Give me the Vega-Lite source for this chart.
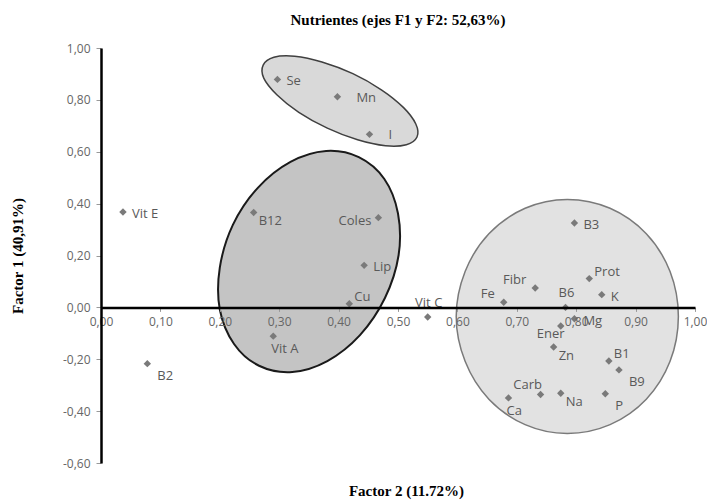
{
  "$schema": "https://vega.github.io/schema/vega-lite/v6.json",
  "width": 594,
  "height": 415,
  "autosize": {"type": "none"},
  "padding": {"left": 101, "top": 48, "right": 12, "bottom": 37},
  "background": "#ffffff",
  "config": {"view": {"stroke": null}},
  "title": {"text": "Nutrientes (ejes F1 y F2: 52,63%)", "font": "Liberation Serif", "fontSize": 15, "fontWeight": "bold", "color": "#000000", "anchor": "middle", "offset": 14},
  "datasets": {
    "pts": [
      {"n": "Vit E", "x": 0.037, "y": 0.368},
      {"n": "B2", "x": 0.078, "y": -0.217},
      {"n": "Se", "x": 0.297, "y": 0.879},
      {"n": "Mn", "x": 0.398, "y": 0.812},
      {"n": "I", "x": 0.452, "y": 0.667},
      {"n": "B12", "x": 0.257, "y": 0.366},
      {"n": "Coles", "x": 0.467, "y": 0.346},
      {"n": "Lip", "x": 0.443, "y": 0.162},
      {"n": "Cu", "x": 0.418, "y": 0.014},
      {"n": "Vit A", "x": 0.29, "y": -0.111},
      {"n": "Vit C", "x": 0.55, "y": -0.037},
      {"n": "B3", "x": 0.797, "y": 0.325},
      {"n": "Prot", "x": 0.822, "y": 0.111},
      {"n": "Fibr", "x": 0.731, "y": 0.075},
      {"n": "K", "x": 0.843, "y": 0.049},
      {"n": "Fe", "x": 0.678, "y": 0.02},
      {"n": "B6", "x": 0.782, "y": 0.0},
      {"n": "Mg", "x": 0.797, "y": -0.044},
      {"n": "Ener", "x": 0.774, "y": -0.072},
      {"n": "Zn", "x": 0.762, "y": -0.153},
      {"n": "B1", "x": 0.855, "y": -0.207},
      {"n": "B9", "x": 0.872, "y": -0.241},
      {"n": "Carb", "x": 0.74, "y": -0.336},
      {"n": "Ca", "x": 0.686, "y": -0.349},
      {"n": "Na", "x": 0.774, "y": -0.331},
      {"n": "P", "x": 0.849, "y": -0.333}
    ],
    "ell1": [
      {"i": 0, "x": 0.532, "y": 0.657},
      {"i": 1, "x": 0.514, "y": 0.627},
      {"i": 2, "x": 0.479, "y": 0.623},
      {"i": 3, "x": 0.432, "y": 0.646},
      {"i": 4, "x": 0.381, "y": 0.691},
      {"i": 5, "x": 0.333, "y": 0.752},
      {"i": 6, "x": 0.296, "y": 0.82},
      {"i": 7, "x": 0.274, "y": 0.884},
      {"i": 8, "x": 0.273, "y": 0.934},
      {"i": 9, "x": 0.291, "y": 0.964},
      {"i": 10, "x": 0.326, "y": 0.968},
      {"i": 11, "x": 0.372, "y": 0.946},
      {"i": 12, "x": 0.424, "y": 0.901},
      {"i": 13, "x": 0.472, "y": 0.839},
      {"i": 14, "x": 0.509, "y": 0.771},
      {"i": 15, "x": 0.53, "y": 0.707}
    ],
    "ell2": [
      {"i": 0, "x": 0.434, "y": 0.579},
      {"i": 1, "x": 0.477, "y": 0.495},
      {"i": 2, "x": 0.5, "y": 0.362},
      {"i": 3, "x": 0.501, "y": 0.201},
      {"i": 4, "x": 0.478, "y": 0.036},
      {"i": 5, "x": 0.436, "y": -0.107},
      {"i": 6, "x": 0.381, "y": -0.207},
      {"i": 7, "x": 0.322, "y": -0.249},
      {"i": 8, "x": 0.266, "y": -0.225},
      {"i": 9, "x": 0.224, "y": -0.141},
      {"i": 10, "x": 0.2, "y": -0.008},
      {"i": 11, "x": 0.2, "y": 0.153},
      {"i": 12, "x": 0.222, "y": 0.318},
      {"i": 13, "x": 0.264, "y": 0.461},
      {"i": 14, "x": 0.319, "y": 0.561},
      {"i": 15, "x": 0.379, "y": 0.603}
    ],
    "ell3": [
      {"i": 0, "x": 0.972, "y": -0.035},
      {"i": 1, "x": 0.958, "y": -0.208},
      {"i": 2, "x": 0.918, "y": -0.354},
      {"i": 3, "x": 0.857, "y": -0.452},
      {"i": 4, "x": 0.785, "y": -0.486},
      {"i": 5, "x": 0.714, "y": -0.452},
      {"i": 6, "x": 0.653, "y": -0.354},
      {"i": 7, "x": 0.613, "y": -0.208},
      {"i": 8, "x": 0.598, "y": -0.035},
      {"i": 9, "x": 0.613, "y": 0.138},
      {"i": 10, "x": 0.653, "y": 0.284},
      {"i": 11, "x": 0.714, "y": 0.382},
      {"i": 12, "x": 0.785, "y": 0.416},
      {"i": 13, "x": 0.857, "y": 0.382},
      {"i": 14, "x": 0.918, "y": 0.284},
      {"i": 15, "x": 0.958, "y": 0.138}
    ]
  },
  "encoding": {
    "x": {
      "field": "x", "type": "quantitative",
      "scale": {"domain": [0, 1], "nice": false, "zero": false},
      "axis": {
        "orient": "bottom", "offset": -155.6,
        "values": [0, 0.1, 0.2, 0.3, 0.4, 0.5, 0.6, 0.7, 0.8, 0.9, 1.0],
        "labelExpr": "replace(format(datum.value, '.2f'), '.', ',')",
        "grid": false, "domainColor": "#000000", "domainWidth": 2.5,
        "tickColor": "#999999", "tickSize": 4, "tickWidth": 1,
        "labelPadding": 5, "labelFont": "Open Sans", "labelFontSize": 12, "labelColor": "#666666",
        "labelFlush": false, "labelOverlap": false,
        "title": "Factor 2 (11.72%)", "titleFont": "Liberation Serif", "titleFontSize": 15, "titleFontWeight": "bold", "titleColor": "#000000",
        "titleX": 305, "titleY": 182.6, "titleBaseline": "middle", "titleAlign": "center",
        "zindex": 1
      }
    },
    "y": {
      "field": "y", "type": "quantitative",
      "scale": {"domain": [-0.6, 1.0], "nice": false, "zero": false},
      "axis": {
        "values": [-0.6, -0.4, -0.2, 0, 0.2, 0.4, 0.6, 0.8, 1.0],
        "labelExpr": "replace(replace(format(datum.value, '.2f'), '.', ','), '\u2212', '-')",
        "grid": false, "domainColor": "#000000", "domainWidth": 2.5,
        "tickColor": "#999999", "tickSize": 5, "tickWidth": 1,
        "labelPadding": 6, "labelFont": "Open Sans", "labelFontSize": 12, "labelColor": "#666666",
        "labelFlush": false, "labelOverlap": false,
        "title": "Factor 1 (40,91%)", "titleFont": "Liberation Serif", "titleFontSize": 15, "titleFontWeight": "bold", "titleColor": "#000000",
        "titleX": -84, "titleY": 207.5, "titleAngle": -90, "titleBaseline": "middle", "titleAlign": "center",
        "zindex": 1
      }
    }
  },
  "layer": [
    {"data": {"name": "ell1"}, "mark": {"type": "line", "interpolate": "cardinal-closed", "fill": "#d9d9d9", "stroke": "#404040", "strokeWidth": 1.5}, "encoding": {"order": {"field": "i", "type": "quantitative"}}},
    {"data": {"name": "ell2"}, "mark": {"type": "line", "interpolate": "cardinal-closed", "fill": "#c4c4c4", "stroke": "#1a1a1a", "strokeWidth": 2}, "encoding": {"order": {"field": "i", "type": "quantitative"}}},
    {"data": {"name": "ell3"}, "mark": {"type": "line", "interpolate": "cardinal-closed", "fill": "#e2e2e2", "stroke": "#7a7a7a", "strokeWidth": 1.5}, "encoding": {"order": {"field": "i", "type": "quantitative"}}},
    {"data": {"name": "pts"}, "mark": {"type": "point", "shape": "diamond", "filled": true, "size": 55, "color": "#7a7a7a", "opacity": 1}},
    {"data": {"name": "pts"}, "transform": [{"filter": {"field": "n", "oneOf": ["Vit E", "Se", "Lip", "B3", "K", "Mg"]}}],
     "mark": {"type": "text", "align": "left", "baseline": "middle", "dx": 9, "dy": 2, "font": "Open Sans", "fontSize": 13, "color": "#595959"}, "encoding": {"text": {"field": "n"}}},
    {"data": {"name": "pts"}, "transform": [{"filter": {"field": "n", "oneOf": ["Mn", "I"]}}],
     "mark": {"type": "text", "align": "left", "baseline": "middle", "dx": 19, "dy": 1, "font": "Open Sans", "fontSize": 13, "color": "#595959"}, "encoding": {"text": {"field": "n"}}},
    {"data": {"name": "pts"}, "transform": [{"filter": {"field": "n", "oneOf": ["B12", "Zn", "Na"]}}],
     "mark": {"type": "text", "align": "left", "baseline": "middle", "dx": 5, "dy": 9, "font": "Open Sans", "fontSize": 13, "color": "#595959"}, "encoding": {"text": {"field": "n"}}},
    {"data": {"name": "pts"}, "transform": [{"filter": {"field": "n", "oneOf": ["B2", "P", "B9"]}}],
     "mark": {"type": "text", "align": "left", "baseline": "middle", "dx": 10, "dy": 12, "font": "Open Sans", "fontSize": 13, "color": "#595959"}, "encoding": {"text": {"field": "n"}}},
    {"data": {"name": "pts"}, "transform": [{"filter": {"field": "n", "oneOf": ["Prot", "B1", "Cu"]}}],
     "mark": {"type": "text", "align": "left", "baseline": "middle", "dx": 5, "dy": -7, "font": "Open Sans", "fontSize": 13, "color": "#595959"}, "encoding": {"text": {"field": "n"}}},
    {"data": {"name": "pts"}, "transform": [{"filter": {"field": "n", "oneOf": ["Fibr", "Fe"]}}],
     "mark": {"type": "text", "align": "right", "baseline": "middle", "dx": -9, "dy": -8, "font": "Open Sans", "fontSize": 13, "color": "#595959"}, "encoding": {"text": {"field": "n"}}},
    {"data": {"name": "pts"}, "transform": [{"filter": {"field": "n", "oneOf": ["Coles"]}}],
     "mark": {"type": "text", "align": "right", "baseline": "middle", "dx": -7, "dy": 3, "font": "Open Sans", "fontSize": 13, "color": "#595959"}, "encoding": {"text": {"field": "n"}}},
    {"data": {"name": "pts"}, "transform": [{"filter": {"field": "n", "oneOf": ["Vit C", "B6"]}}],
     "mark": {"type": "text", "align": "center", "baseline": "middle", "dx": 1, "dy": -14, "font": "Open Sans", "fontSize": 13, "color": "#595959"}, "encoding": {"text": {"field": "n"}}},
    {"data": {"name": "pts"}, "transform": [{"filter": {"field": "n", "oneOf": ["Carb"]}}],
     "mark": {"type": "text", "align": "center", "baseline": "middle", "dx": -13, "dy": -10, "font": "Open Sans", "fontSize": 13, "color": "#595959"}, "encoding": {"text": {"field": "n"}}},
    {"data": {"name": "pts"}, "transform": [{"filter": {"field": "n", "oneOf": ["Vit A", "Ca"]}}],
     "mark": {"type": "text", "align": "left", "baseline": "middle", "dx": -2, "dy": 13, "font": "Open Sans", "fontSize": 13, "color": "#595959"}, "encoding": {"text": {"field": "n"}}},
    {"data": {"name": "pts"}, "transform": [{"filter": {"field": "n", "oneOf": ["Ener"]}}],
     "mark": {"type": "text", "align": "center", "baseline": "middle", "dx": -10, "dy": 8, "font": "Open Sans", "fontSize": 13, "color": "#595959"}, "encoding": {"text": {"field": "n"}}}
  ]
}
